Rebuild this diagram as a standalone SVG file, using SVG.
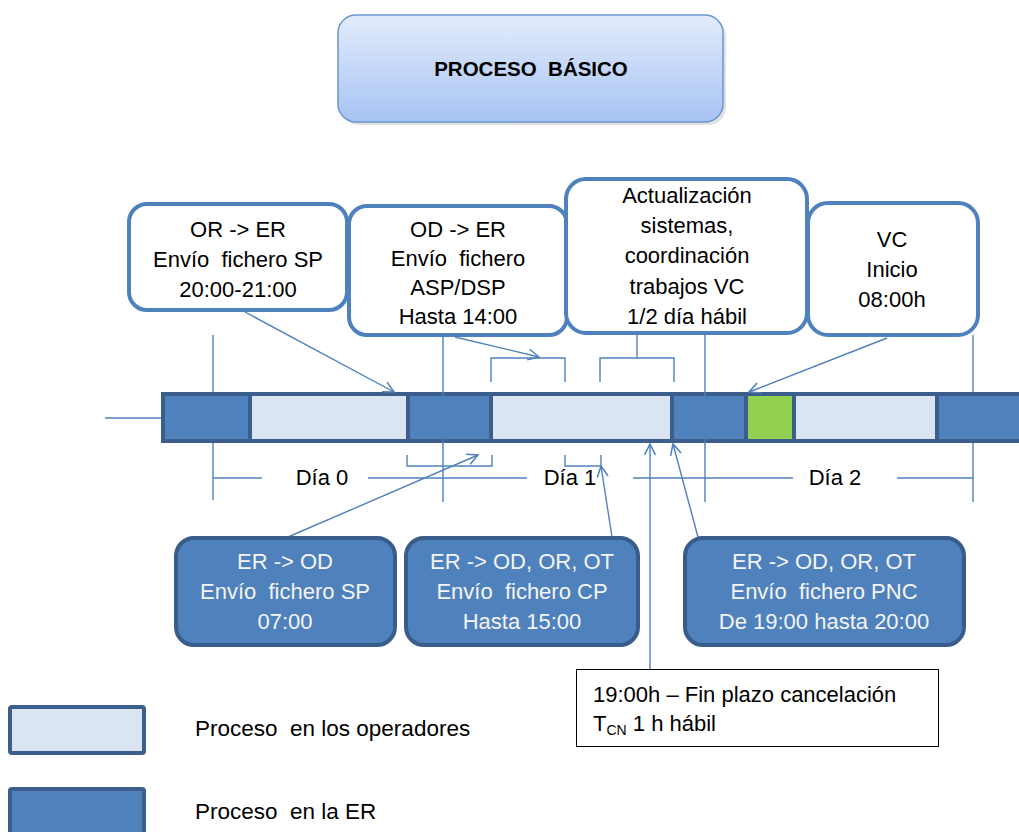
<svg xmlns="http://www.w3.org/2000/svg" width="1019" height="832" viewBox="0 0 1019 832">
  <defs>
    <linearGradient id="titleGrad" x1="0" y1="0" x2="0" y2="1">
      <stop offset="0" stop-color="#e3ecfc"/>
      <stop offset="1" stop-color="#a7c3f3"/>
    </linearGradient>
    <marker id="arr" viewBox="0 0 12 12" refX="11" refY="6" markerWidth="13" markerHeight="13" markerUnits="userSpaceOnUse" orient="auto">
      <path d="M1,1 L11,6 L1,11" fill="none" stroke="#4f81bd" stroke-width="1.4"/>
    </marker>
    <style>
      text { font-family: "Liberation Sans", Arial, sans-serif; }
      .t { font-size: 22px; fill: #000; text-anchor: middle; }
      .w { font-size: 22px; fill: #f4f4f4; text-anchor: middle; }
      .topbox { fill: #ffffff; stroke: #4f81bd; stroke-width: 4; }
      .botbox { fill: #4f81bd; stroke: #385d8a; stroke-width: 4; }
      .ln { stroke: #4f81bd; stroke-width: 1.4; fill: none; }
      .sep { stroke: #3b5e8c; stroke-width: 4; }
      .dark { fill: #4f81bd; }
      .light { fill: #dbe5f1; }
    </style>
  </defs>

  <!-- Title -->
  <g id="title">
    <rect x="341" y="18" width="385" height="107" rx="18" fill="#000" opacity="0.12"/>
    <rect x="338" y="15" width="385" height="107" rx="18" fill="url(#titleGrad)" stroke="#6a96d0" stroke-width="1.5"/>
    <text x="531" y="76" text-anchor="middle" font-size="20.5" font-weight="bold" fill="#000" xml:space="preserve">PROCESO  BÁSICO</text>
  </g>

  <!-- background connectors (behind the bar) -->
  <g id="connectors-back">
    <line class="ln" x1="105" y1="418" x2="163" y2="418"/>
    <line class="ln" x1="213" y1="335" x2="213" y2="500"/>
    <line class="ln" x1="973" y1="335" x2="973" y2="502"/>
  </g>

  <!-- Timeline bar -->
  <g id="timeline">
    <rect x="163" y="394" width="870" height="47" class="dark" stroke="#3b5e8c" stroke-width="4"/>
    <rect x="250" y="394" width="158" height="47" class="light"/>
    <rect x="491" y="394" width="181" height="47" class="light"/>
    <rect x="746" y="394" width="48" height="47" fill="#92d050"/>
    <rect x="794" y="394" width="143" height="47" class="light"/>
    <line class="sep" x1="163" y1="394" x2="1033" y2="394"/>
    <line class="sep" x1="163" y1="441" x2="1033" y2="441"/>
    <line class="sep" x1="250" y1="392" x2="250" y2="443"/>
    <line class="sep" x1="408" y1="392" x2="408" y2="443"/>
    <line class="sep" x1="491" y1="392" x2="491" y2="443"/>
    <line class="sep" x1="672" y1="392" x2="672" y2="443"/>
    <line class="sep" x1="746" y1="392" x2="746" y2="443"/>
    <line class="sep" x1="794" y1="392" x2="794" y2="443"/>
    <line class="sep" x1="937" y1="392" x2="937" y2="443"/>
  </g>

  <!-- Connectors -->
  <g id="connectors">
    <line class="ln" x1="443" y1="335" x2="443" y2="502"/>
    <line class="ln" x1="705" y1="335" x2="705" y2="502"/>
    <line class="ln" x1="213" y1="478" x2="262" y2="478"/>
    <line class="ln" x1="368" y1="478" x2="527" y2="478"/>
    <line class="ln" x1="633" y1="478" x2="793" y2="478"/>
    <line class="ln" x1="897" y1="478" x2="973" y2="478"/>
    <polyline class="ln" points="491,382 491,358 565,358 565,382"/>
    <polyline class="ln" points="600,382 600,358 674,358 674,382"/>
    <line class="ln" x1="637" y1="335" x2="637" y2="358"/>
    <polyline class="ln" points="407,455 407,466 492,466 492,455"/>
    <polyline class="ln" points="565,455 565,466 601,466 601,455"/>
    <line class="ln" x1="245" y1="312" x2="394" y2="392" marker-end="url(#arr)"/>
    <line class="ln" x1="455" y1="337" x2="539" y2="357" marker-end="url(#arr)"/>
    <line class="ln" x1="887" y1="338" x2="749" y2="392" marker-end="url(#arr)"/>
    <line class="ln" x1="288" y1="537" x2="478" y2="455" marker-end="url(#arr)"/>
    <line class="ln" x1="612" y1="537" x2="601" y2="466" marker-end="url(#arr)"/>
    <line class="ln" x1="650" y1="669" x2="650" y2="444" marker-end="url(#arr)"/>
    <line class="ln" x1="698" y1="537" x2="673" y2="444" marker-end="url(#arr)"/>
  </g>

  <!-- Day labels -->
  <g id="days">
    <text class="t" x="322" y="485">Día 0</text>
    <text class="t" x="570" y="485">Día 1</text>
    <text class="t" x="835" y="485">Día 2</text>
  </g>

  <!-- Top boxes -->
  <g id="box-or-er">
    <rect class="topbox" x="129" y="204" width="218" height="106" rx="18"/>
    <text class="t" x="238" y="237">OR -&gt; ER</text>
    <text class="t" x="238" y="267" xml:space="preserve">Envío  fichero SP</text>
    <text class="t" x="238" y="297">20:00-21:00</text>
  </g>
  <g id="box-od-er">
    <rect class="topbox" x="349" y="206" width="218" height="129" rx="18"/>
    <text class="t" x="458" y="237">OD -&gt; ER</text>
    <text class="t" x="458" y="266" xml:space="preserve">Envío  fichero</text>
    <text class="t" x="458" y="295">ASP/DSP</text>
    <text class="t" x="458" y="324">Hasta 14:00</text>
  </g>
  <g id="box-actualizacion">
    <rect class="topbox" x="566" y="179" width="241" height="154" rx="20"/>
    <text class="t" x="687" y="203">Actualización</text>
    <text class="t" x="687" y="233">sistemas,</text>
    <text class="t" x="687" y="263">coordinación</text>
    <text class="t" x="687" y="294">trabajos VC</text>
    <text class="t" x="687" y="324">1/2 día hábil</text>
  </g>
  <g id="box-vc">
    <rect class="topbox" x="808" y="203" width="170" height="132" rx="20"/>
    <text class="t" x="892" y="247">VC</text>
    <text class="t" x="892" y="277">Inicio</text>
    <text class="t" x="892" y="307">08:00h</text>
  </g>

  <!-- Bottom boxes -->
  <g id="box-er-od-sp">
    <rect class="botbox" x="176" y="538" width="219" height="107" rx="18"/>
    <text class="w" x="285" y="569">ER -&gt; OD</text>
    <text class="w" x="285" y="599" xml:space="preserve">Envío  fichero SP</text>
    <text class="w" x="285" y="629">07:00</text>
  </g>
  <g id="box-er-cp">
    <rect class="botbox" x="406" y="538" width="232" height="107" rx="18"/>
    <text class="w" x="522" y="569">ER -&gt; OD, OR, OT</text>
    <text class="w" x="522" y="599" xml:space="preserve">Envío  fichero CP</text>
    <text class="w" x="522" y="629">Hasta 15:00</text>
  </g>
  <g id="box-er-pnc">
    <rect class="botbox" x="685" y="538" width="279" height="107" rx="18"/>
    <text class="w" x="824" y="569">ER -&gt; OD, OR, OT</text>
    <text class="w" x="824" y="599" xml:space="preserve">Envío  fichero PNC</text>
    <text class="w" x="824" y="629">De 19:00 hasta 20:00</text>
  </g>

  <!-- Cancel box -->
  <g id="box-cancel">
    <rect x="576.5" y="669.5" width="362" height="77" fill="#ffffff" stroke="#000" stroke-width="1"/>
    <text x="593" y="702" font-size="22" fill="#000">19:00h – Fin plazo cancelación</text>
    <text x="593" y="731" font-size="22" fill="#000">T<tspan font-size="14" dy="4">CN</tspan><tspan dy="-4"> 1 h hábil</tspan></text>
  </g>

  <!-- Legend -->
  <g id="legend-operadores">
    <rect x="10" y="707" width="134" height="46" class="light" stroke="#3b5e8c" stroke-width="4" rx="2"/>
    <text x="195" y="736" font-size="22.5" fill="#000" xml:space="preserve">Proceso  en los operadores</text>
  </g>
  <g id="legend-er">
    <rect x="10" y="789" width="134" height="50" class="dark" stroke="#3b5e8c" stroke-width="4" rx="2"/>
    <text x="195" y="819" font-size="22.5" fill="#000" xml:space="preserve">Proceso  en la ER</text>
  </g>
</svg>
